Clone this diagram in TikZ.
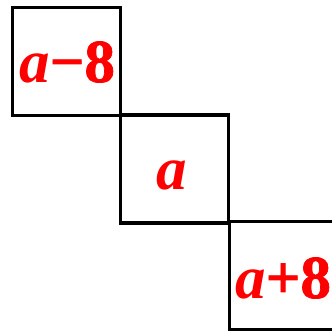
\documentclass[tikz,border=0pt]{standalone}
\usepackage{fontspec}
\setmainfont{Liberation Serif}[BoldFeatures={FakeBold=1.2}]
\usepackage{tikz}
\usetikzlibrary{positioning}

\tikzset{
  cell/.style={draw=black, line width=3.2pt, minimum width=108pt, minimum height=108pt, inner sep=0pt},
  term/.style={text=red, font=\fontsize{61}{64}\selectfont\bfseries, inner sep=0pt, anchor=base west}
}
\newcommand{\va}{\textit{a}}

\begin{document}
\begin{tikzpicture}[x=1pt, y=-1pt]
    \useasboundingbox (0,0) rectangle (332,330);
    % Diagonal cells
    \node[cell] (prev) at (66.5,61.5) {};
    \node[cell] (mid) at (174.5,169) {};
    \node[cell] (next) at (283.5,275.5) {};

    % Terms
    \node[term] (tprev) at (19,82) {\va{}\symbol{"2212}8};
    \node[term] (tmid) at (156,189) {\va};
    \node[term] (tnext) at (235,298) {\va+8};
\end{tikzpicture}
\end{document}
